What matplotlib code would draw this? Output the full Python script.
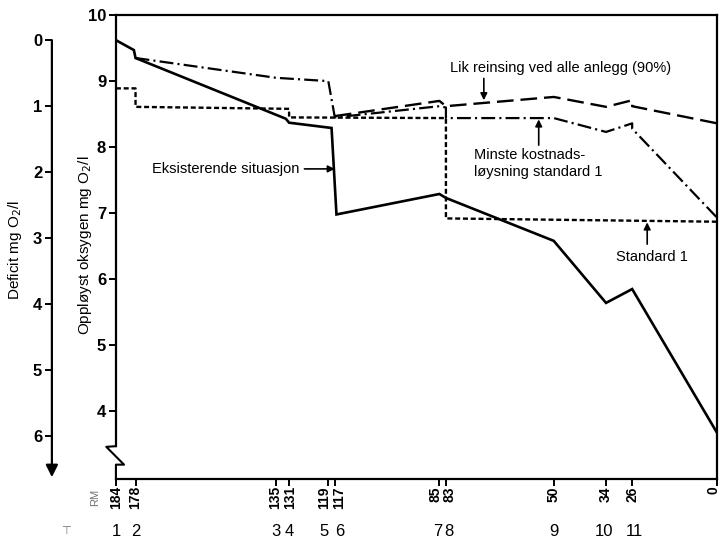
import matplotlib
matplotlib.use("Agg")
import matplotlib.pyplot as plt
from matplotlib.lines import Line2D
from matplotlib.transforms import ScaledTranslation

plt.rcParams['font.family'] = ['Liberation Sans', 'DejaVu Sans']
plt.rcParams['lines.scale_dashes'] = False

# river mile ticks and station numbers
rm_ticks = [184, 178, 135, 131, 119, 117, 85, 83, 50, 34, 26, 0]
station_no = ['1', '2', '3', '4', '5', '6', '7', '8', '9', '10', '11']

# Eksisterende situasjon (solid)
exist_rm = [184, 178.5, 178, 132, 131, 118, 116.5, 85, 83, 50, 34, 26, 0]
exist_do = [9.62, 9.47, 9.35, 8.43, 8.37, 8.29, 6.98, 7.29, 7.23, 6.58, 5.64, 5.85, 3.67]

# Standard 1 (short dash)
std1_rm = [184, 178, 178, 131, 131, 83, 83, 0]
std1_do = [8.89, 8.89, 8.61, 8.58, 8.45, 8.44, 6.92, 6.87]

# Minste kostnadsløysning standard 1 (dash-dot)
minste_rm = [178, 135, 119, 117, 85, 83, 83, 50, 34, 26, 26, 0]
minste_do = [9.35, 9.05, 9.00, 8.45, 8.62, 8.60, 8.44, 8.44, 8.23, 8.36, 8.28, 6.93]

# Lik reinsing ved alle anlegg (90%) (long dash)
lik_rm = [117, 85, 83, 50, 34, 26, 26, 0]
lik_do = [8.47, 8.70, 8.62, 8.76, 8.61, 8.71, 8.62, 8.36]

sat_do = 9.62  # deficit = sat_do - DO

# small sideways nudges (pixels) so that crowded labels sit apart, as in the print
tick_nudge = {135: -1, 131: 1, 119: -4, 117: 4, 85: -4, 83: 4, 0: -4}
no_nudge = {'5': -4, '6': 5, '7': -2, '8': 3, '10': -2, '11': 2}


def px(dx, dy):
    return ScaledTranslation(dx / 100, dy / 100, fig.dpi_scale_trans)


fig = plt.figure(figsize=(7.2, 5.39), dpi=100)
ax = fig.add_axes([0.161, 0.111, 0.835, 0.861])

ax.plot(exist_rm, exist_do, color='black', lw=1.9, solid_joinstyle='miter')
ax.plot(std1_rm, std1_do, color='black', lw=1.7, dashes=(3.6, 2.0))
ax.plot(minste_rm, minste_do, color='black', lw=1.6, dashes=(10, 3, 1.5, 3))
ax.plot(lik_rm, lik_do, color='black', lw=1.7, dashes=(12, 5))

ax.set_xlim(184, 0)
ax.set_ylim(2.97, 10)
ax.set_yticks([4, 5, 6, 7, 8, 9, 10])
ax.set_xticks(rm_ticks)
ax.set_xticklabels([])
ax.tick_params(axis='y', labelsize=12, width=1.4, length=5, pad=2)
ax.tick_params(axis='x', width=1.4, length=5, pad=2)
for lab in ax.get_yticklabels():
    lab.set_fontweight('bold')
for s in ax.spines.values():
    s.set_linewidth(1.6)
ax.spines['left'].set_bounds(3.47, 10)

# river mile labels, written by hand so the crowded ones can be pushed apart
for rm in rm_ticks:
    tr = ax.get_xaxis_transform() + px(tick_nudge.get(rm, 0), -7)
    ax.text(rm, 0, str(rm), transform=tr, rotation=90, ha='center',
            va='top', fontsize=10, fontweight='bold')

# axis break on the left spine
brk = Line2D([0, -0.016, 0.0135, 0, 0], [3.47, 3.46, 3.19, 3.19, 2.97],
             transform=ax.get_yaxis_transform(), color='black', lw=1.5,
             clip_on=False)
ax.add_line(brk)

# station numbers under the river mile ticks
for rm, no in zip(rm_ticks, station_no):
    tr = ax.get_xaxis_transform() + px(no_nudge.get(no, 0), 0)
    ax.text(rm, -0.112, no, transform=tr, ha='center', va='center',
            fontsize=12)
fig.text(0.132, 0.078, 'RM', rotation=90, fontsize=8, color='0.45',
         ha='center', va='center')
fig.text(0.092, 0.015, '\u22a4', fontsize=8, color='0.45', ha='center',
         va='center')

# deficit axis
sec = ax.secondary_yaxis(-0.1065, functions=(lambda y: sat_do - y,
                                             lambda d: sat_do - d))
sec.set_yticks([0, 1, 2, 3, 4, 5, 6])
sec.tick_params(labelsize=12, width=1.4, length=5, pad=2)
for lab in sec.get_yticklabels():
    lab.set_fontweight('bold')
sec.spines['left'].set_visible(False)
ax.annotate('', xy=(-0.1065, 3.0), xytext=(-0.1065, sat_do),
            xycoords=ax.get_yaxis_transform(), annotation_clip=False,
            arrowprops=dict(arrowstyle='-|>', lw=1.6, color='black',
                            mutation_scale=18, shrinkA=0, shrinkB=0))

fig.text(0.021, 0.536, 'Deficit mg O$_2$/l', rotation=90, fontsize=11,
         ha='center', va='center')
fig.text(0.118, 0.545, 'Oppløyst oksygen mg O$_2$/l', rotation=90,
         fontsize=11, ha='center', va='center')

arrow = dict(arrowstyle='-|>', lw=1.2, color='black', mutation_scale=10,
             shrinkA=0, shrinkB=0)
ax.text(47.9, 9.20, 'Lik reinsing ved alle anlegg (90%)', fontsize=10.5,
        ha='center', va='center')
ax.annotate('', xy=(71.4, 8.71), xytext=(71.4, 9.04), arrowprops=arrow)

ax.text(74.4, 7.75, 'Minste kostnads-\nløysning standard 1', fontsize=10.5,
        ha='left', va='center', linespacing=1.25)
ax.annotate('', xy=(54.6, 8.42), xytext=(54.6, 8.03), arrowprops=arrow)

ax.text(173, 7.67, 'Eksisterende situasjon', fontsize=10.5, ha='left',
        va='center')
ax.annotate('', xy=(117.0, 7.67), xytext=(126.3, 7.67), arrowprops=arrow)

ax.text(31.1, 6.33, 'Standard 1', fontsize=10.5, ha='left', va='center')
ax.annotate('', xy=(21.4, 6.86), xytext=(21.4, 6.53), arrowprops=arrow)

fig.savefig('out.png', dpi=100)
